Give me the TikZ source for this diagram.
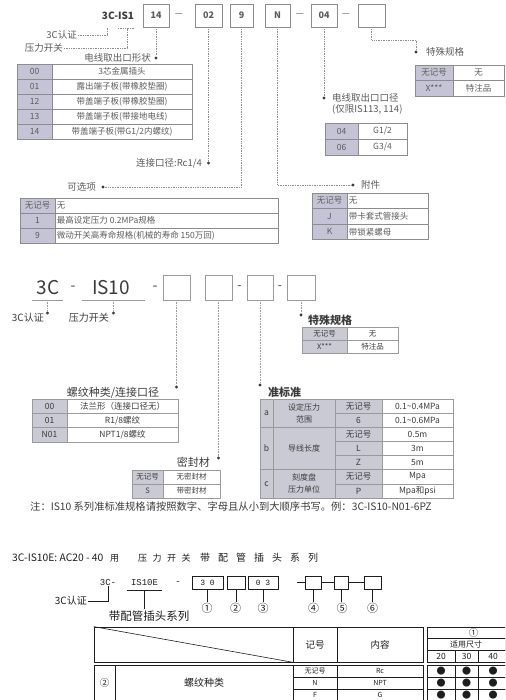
\documentclass[tikz,border=0pt]{standalone}
\usepackage{fontspec}
\setmainfont{Noto Sans CJK SC}
\setmonofont{Liberation Mono}
\usetikzlibrary{calc}
\definecolor{fillA}{HTML}{C4C4D6}
\definecolor{fillB}{HTML}{CACAD4}
\definecolor{lineA}{HTML}{8C8C8C}
\definecolor{lineB}{HTML}{9A9A9A}
\definecolor{txtA}{HTML}{5C5C5C}
\definecolor{txtB}{HTML}{3C3C3C}
\definecolor{txtC}{HTML}{1E1E1E}
\newcommand\cellx[7][]{\node[#1,minimum width={(#5)-(#3)},minimum height={(#6)-(#4)}] (#2) at ({((#3)+(#5))/2},{((#4)+(#6))/2}) {#7};}
\newcommand\gapA{\hspace{5.5pt}}
\newcommand\gapB{\hspace{8pt}}
\begin{document}
\begin{tikzpicture}[x=1pt,y=-1pt,
  cell/.style={draw=lineA,line width=0.5pt,inner sep=0pt,align=center,text=txtA,font=\fontsize{8.5}{9}\selectfont},
  cellL/.style={inner sep=0pt,anchor=west,text=txtA,font=\fontsize{8.5}{9}\selectfont},
  cellB/.style={draw=lineB,line width=0.5pt,inner sep=0pt,align=center,text=txtB,font=\fontsize{8.5}{9.5}\selectfont},
  cellC/.style={draw=txtC,line width=0.8pt,inner sep=0pt,align=center,text=txtC,font=\fontsize{9.5}{10}\selectfont},
  boxA/.style={draw=lineA,line width=0.6pt,inner sep=0pt,text=txtA,font=\bfseries\fontsize{9}{10}\selectfont},
  boxB/.style={draw=lineB,line width=0.5pt,inner sep=0pt},
  boxC/.style={draw=txtC,line width=0.9pt,inner sep=0pt,text=txtC,font=\ttfamily\fontsize{8}{9}\selectfont,minimum height=13},
  dashA/.style={inner sep=0pt,text=txtA,font=\fontsize{9}{10}\selectfont},
  labA/.style={inner sep=1pt,text=txtA,font=\fontsize{9.5}{10}\selectfont},
  labB/.style={inner sep=1pt,text=txtB,font=\fontsize{10}{11}\selectfont},
  headB/.style={inner sep=1pt,text=txtB,font=\bfseries\fontsize{11}{12}\selectfont},
  bigB/.style={inner sep=0pt,text=txtB,font=\fontsize{19}{20}\selectfont},
  monoC/.style={inner sep=0pt,text=txtC,font=\ttfamily\fontsize{9}{10}\selectfont},
  labC/.style={inner sep=1pt,text=txtC,font=\fontsize{10}{11}\selectfont},
  conn/.style={densely dotted,draw=lineA,line width=0.7pt},
  connB/.style={densely dotted,draw=lineB,line width=0.6pt},
  connC/.style={draw=txtC,line width=0.8pt},
  dotn/.style={circle,fill=txtB,inner sep=0pt,minimum size=3.4pt}]
\useasboundingbox (0,0) rectangle (505,700);
\clip (0,0) rectangle (505,700);
\fill[white] (0,0) rectangle (505,700);

% ================= Section 1 =================
\node[inner sep=0pt,text=txtB,font=\bfseries\fontsize{10}{11}\selectfont] (s1code) at (118,16) {3C-IS1};
\node[boxA,minimum width=26,minimum height=23] (b14) at (156,15.5) {14};
\node[dashA] (s1d1) at (179,15) {—};
\node[boxA,minimum width=27,minimum height=23] (b02) at (208.5,15.5) {02};
\node[boxA,minimum width=23,minimum height=23] (b9) at (241.5,15.5) {9};
\node[boxA,minimum width=25,minimum height=23] (bN) at (277.5,15.5) {N};
\node[dashA] (s1d2) at (300,15) {—};
\node[boxA,minimum width=26,minimum height=23] (b04) at (324,15.5) {04};
\node[dashA] (s1d3) at (346,15) {—};
\node[boxA,minimum width=27,minimum height=23] (bX) at (371.5,15.5) {};

% 3C / pressure switch labels
\node[labA,anchor=east] (l3c) at (78,35) {3C认证};
\coordinate (k3c) at (107,28);
\draw[conn] (l3c.east) -| (k3c);
\node[labA,anchor=east] (lpr) at (64,48) {压力开关};
\coordinate (kpr) at (127,28);
\coordinate (ulA) at (118,28);
\coordinate (ulB) at (135,28);
\draw[conn] (lpr.east) -| (kpr);
\draw[conn] (ulA) -- (ulB);

% electrical entry
\node[dotn] (p14) at (156,58) {};
\draw[conn] (b14.south) -- (p14);
\node[labA,anchor=east] (l14) at (152,58) {电线取出口形状};
\cellx[cell,fill=fillA]{ta0}{17}{64}{52}{79}{00}
\cellx[cell]{tb0}{52}{64}{192}{79}{3芯金属插头}
\cellx[cell,fill=fillA]{ta1}{17}{79}{52}{94}{01}
\cellx[cell]{tb1}{52}{79}{192}{94}{露出端子板(带橡胶垫圈)}
\cellx[cell,fill=fillA]{ta2}{17}{94}{52}{109}{12}
\cellx[cell]{tb2}{52}{94}{192}{109}{带盖端子板(带橡胶垫圈)}
\cellx[cell,fill=fillA]{ta3}{17}{109}{52}{124}{13}
\cellx[cell]{tb3}{52}{109}{192}{124}{带盖端子板(带接地电线)}
\cellx[cell,fill=fillA]{ta4}{17}{124}{52}{139}{14}
\cellx[cell]{tb4}{52}{124}{192}{139}{带盖端子板(带G1/2内螺纹)}

% port size
\node[dotn] (p02) at (208.5,163) {};
\draw[conn] (b02.south) -- (p02);
\node[labA,anchor=east] (l02) at (203,163) {连接口径:Rc1/4};

% options
\node[dotn] (p9) at (103,187) {};
\draw[conn] (b9.south) |- (p9);
\node[labA,anchor=east] (l9) at (97,187) {可选项};
\cellx[cell,fill=fillA]{oa0}{20}{198}{55}{213}{无记号}
\cellx[cell]{ob0}{55}{198}{278}{213}{}
\node[cellL] (ob0t) at ([xshift=2pt]ob0.west) {无};
\cellx[cell,fill=fillA]{oa1}{20}{213}{55}{228}{1}
\cellx[cell]{ob1}{55}{213}{278}{228}{}
\node[cellL] (ob1t) at ([xshift=2pt]ob1.west) {最高设定压力 0.2MPa规格};
\cellx[cell,fill=fillA]{oa2}{20}{228}{55}{243}{9}
\cellx[cell]{ob2}{55}{228}{278}{243}{}
\node[cellL] (ob2t) at ([xshift=2pt]ob2.west) {微动开关高寿命规格(机械的寿命 150万回)};

% accessories
\node[dotn] (pN) at (353,185) {};
\draw[conn] (bN.south) |- (pN);
\node[labA,anchor=west] (lN) at (360,185) {附件};
\cellx[cell,fill=fillA]{aa0}{312}{193}{347}{208.5}{无记号}
\cellx[cell]{ab0}{347}{193}{428}{208.5}{}
\node[cellL] (ab0t) at ([xshift=2pt]ab0.west) {无};
\cellx[cell,fill=fillA]{aa1}{312}{208.5}{347}{224}{J}
\cellx[cell]{ab1}{347}{208.5}{428}{224}{}
\node[cellL] (ab1t) at ([xshift=2pt]ab1.west) {带卡套式管接头};
\cellx[cell,fill=fillA]{aa2}{312}{224}{347}{239.5}{K}
\cellx[cell]{ab2}{347}{224}{428}{239.5}{}
\node[cellL] (ab2t) at ([xshift=2pt]ab2.west) {带锁紧螺母};

% electrical entry port size
\node[dotn] (p04) at (324,98) {};
\draw[conn] (b04.south) -- (p04);
\node[labA,anchor=west] (l04) at (331,98) {电线取出口口径};
\node[labA,anchor=west] (l04b) at (331,109) {(仅限IS113, 114)};
\cellx[cell,fill=fillA]{ga0}{325}{123}{358}{139}{04}
\cellx[cell]{gb0}{358}{123}{407}{139}{G1/2}
\cellx[cell,fill=fillA]{ga1}{325}{139}{358}{155}{06}
\cellx[cell]{gb1}{358}{139}{407}{155}{G3/4}

% special spec
\node[dotn] (pX) at (416,52) {};
\coordinate (kX) at (371.5,40);
\draw[conn] (bX.south) -- (kX) -| (pX);
\node[labA,anchor=west] (lX) at (425,52) {特殊规格};
\cellx[cell,fill=fillA]{xa0}{415}{65}{453}{80}{无记号}
\cellx[cell]{xb0}{453}{65}{504}{80}{无}
\cellx[cell,fill=fillA]{xa1}{415}{80}{453}{96}{X***}
\cellx[cell]{xb1}{453}{80}{504}{96}{特注品}

% ================= Section 2 =================
\node[bigB] (s3c) at (48,288) {3C};
\node[bigB,font=\fontsize{14}{15}\selectfont] (sd1) at (73,288) {-};
\node[bigB] (sis) at (111,288) {IS10};
\node[bigB,font=\fontsize{14}{15}\selectfont] (sd2) at (155,288) {-};
\coordinate (u1a) at (32,300); \coordinate (u1b) at (63,300);
\coordinate (u2a) at (82,300); \coordinate (u2b) at (145,300);
\draw[draw=lineB,line width=0.6pt] (u1a) -- (u1b);
\draw[draw=lineB,line width=0.6pt] (u2a) -- (u2b);
\node[boxB,minimum width=27,minimum height=25] (c1) at (176.5,287.5) {};
\node[boxB,minimum width=27,minimum height=25] (c2) at (218.5,287.5) {};
\node[bigB,font=\fontsize{12}{13}\selectfont] (sd3) at (239.5,288) {-};
\node[boxB,minimum width=26,minimum height=25] (c3) at (260,287.5) {};
\node[bigB,font=\fontsize{12}{13}\selectfont] (sd4) at (280,288) {-};
\node[boxB,minimum width=28,minimum height=25] (c4) at (301,287.5) {};

\node[dotn] (q3c) at (47.5,313) {};
\draw[connB] ($(u1a)!0.5!(u1b)$) -- (q3c);
\node[labB,anchor=east] (m3c) at (45,318) {3C认证};
\node[dotn] (qpr) at (113.5,313) {};
\draw[connB] ($(u2a)!0.5!(u2b)$) -- (qpr);
\node[labB,anchor=east] (mpr) at (110,318) {压力开关};

% special spec 2
\node[dotn] (q4) at (301,315) {};
\draw[connB] (c4.south) -- (q4);
\node[headB,anchor=west] (m4) at (307,320) {特殊规格};
\cellx[cellB,fill=fillB,font=\fontsize{7.5}{8}\selectfont]{ya0}{302}{327}{347}{340}{无记号}
\cellx[cellB,font=\fontsize{7.5}{8}\selectfont]{yb0}{347}{327}{398}{340}{无}
\cellx[cellB,fill=fillB,font=\fontsize{7.5}{8}\selectfont]{ya1}{302}{340}{347}{353}{X***}
\cellx[cellB,font=\fontsize{7.5}{8}\selectfont]{yb1}{347}{340}{398}{353}{特注品}

% thread type
\node[dotn] (q1) at (176.5,387) {};
\draw[connB] (c1.south) -- (q1);
\node[labB,font=\fontsize{11}{12}\selectfont] (m1) at (113,393) {螺纹种类/连接口径};
\cellx[cellB,fill=fillB]{za0}{32}{399}{67}{413.3}{00}
\cellx[cellB]{zb0}{67}{399}{178}{413.3}{法兰形（连接口径无）}
\cellx[cellB,fill=fillB]{za1}{32}{413.3}{67}{427.7}{01}
\cellx[cellB]{zb1}{67}{413.3}{178}{427.7}{R1/8螺纹}
\cellx[cellB,fill=fillB]{za2}{32}{427.7}{67}{442}{N01}
\cellx[cellB]{zb2}{67}{427.7}{178}{442}{NPT1/8螺纹}

% seal
\node[dotn] (q2) at (218.5,458) {};
\draw[connB] (c2.south) -- (q2);
\node[labB,anchor=east,font=\fontsize{11}{12}\selectfont] (m2) at (211,462) {密封材};
\cellx[cellB,fill=fillB,font=\fontsize{7.5}{8}\selectfont]{wa0}{132}{470}{163}{484}{无记号}
\cellx[cellB,font=\fontsize{7.5}{8}\selectfont]{wb0}{163}{470}{220}{484}{无密封材}
\cellx[cellB,fill=fillB,font=\fontsize{7.5}{8}\selectfont]{wa1}{132}{484}{163}{498}{S}
\cellx[cellB,font=\fontsize{7.5}{8}\selectfont]{wb1}{163}{484}{220}{498}{带密封材}

% semi-standard
\node[dotn] (q3) at (260,385) {};
\draw[connB] (c3.south) -- (q3);
\node[headB,anchor=west] (m3) at (267,392) {准标准};
\cellx[cellB,fill=fillB]{va}{260}{399}{273}{427.29}{a}
\cellx[cellB,fill=fillB]{vb}{260}{427.29}{273}{469.71}{b}
\cellx[cellB,fill=fillB]{vc}{260}{469.71}{273}{498}{c}
\cellx[cellB,fill=fillB,font=\fontsize{8}{12}\selectfont]{na}{273}{399}{335}{427.29}{设定压力\\范围}
\cellx[cellB,fill=fillB,font=\fontsize{8}{12}\selectfont]{nb}{273}{427.29}{335}{469.71}{导线长度}
\cellx[cellB,fill=fillB,font=\fontsize{8}{12}\selectfont]{nc}{273}{469.71}{335}{498}{刻度盘\\压力单位}
\cellx[cellB,fill=fillB]{k0}{335}{399}{382}{413.14}{无记号}
\cellx[cellB,fill=fillB]{k1}{335}{413.14}{382}{427.29}{6}
\cellx[cellB,fill=fillB]{k2}{335}{427.29}{382}{441.43}{无记号}
\cellx[cellB,fill=fillB]{k3}{335}{441.43}{382}{455.57}{L}
\cellx[cellB,fill=fillB]{k4}{335}{455.57}{382}{469.71}{Z}
\cellx[cellB,fill=fillB]{k5}{335}{469.71}{382}{483.86}{无记号}
\cellx[cellB,fill=fillB]{k6}{335}{483.86}{382}{498}{P}
\cellx[cellB]{v0}{382}{399}{453}{413.14}{0.1\textasciitilde 0.4MPa}
\cellx[cellB]{v1}{382}{413.14}{453}{427.29}{0.1\textasciitilde 0.6MPa}
\cellx[cellB]{v2}{382}{427.29}{453}{441.43}{0.5m}
\cellx[cellB]{v3}{382}{441.43}{453}{455.57}{3m}
\cellx[cellB]{v4}{382}{455.57}{453}{469.71}{5m}
\cellx[cellB]{v5}{382}{469.71}{453}{483.86}{Mpa}
\cellx[cellB]{v6}{382}{483.86}{453}{498}{Mpa和psi}

% note
\node[anchor=west,inner sep=0pt,text=txtB,font=\fontsize{10.3}{11}\selectfont] (note) at (30,507) {注：IS10 系列准标准规格请按照数字、字母且从小到大顺序书写。例：3C-IS10-N01-6PZ};

% ================= Section 3 =================
\node[anchor=west,inner sep=0pt,text=txtC,font=\fontsize{10.3}{11}\selectfont] (ti1) at (12,558) {3C-IS10E: AC20 - 40};
\node[anchor=west,inner sep=0pt,text=txtC,font=\fontsize{9}{10}\selectfont] (ti2) at (110,558) {用};
\node[anchor=west,inner sep=0pt,text=txtC,font=\fontsize{9}{10}\selectfont] (ti3) at (138,558) {压\gapA 力\gapA 开\gapA 关};
\node[anchor=west,inner sep=0pt,text=txtC,font=\fontsize{10}{11}\selectfont] (ti4) at (200,558) {带\gapB 配\gapB 管\gapB 插\gapB 头\gapB 系\gapB 列};

\node[monoC] (e3c) at (108,583) {3C-};
\node[monoC] (eis) at (144.5,583) {IS10E};
\coordinate (eu1) at (127,590); \coordinate (eu2) at (162,590);
\coordinate (eum) at ($(eu1)!0.5!(eu2)$);
\draw[connC] (eu1) -- (eu2);
\node[monoC] (edash) at (178,583) {-};
\node[boxC,minimum width=31] (e1) at (207.5,582.5) {3 0};
\node[boxC,minimum width=18] (e2) at (236,582.5) {};
\node[boxC,minimum width=30] (e3) at (263,582.5) {0 3};
\coordinate (e4l) at (297,582.5);
\node[boxC,minimum width=16] (e4) at (313.5,582.5) {};
\node[boxC,minimum width=14] (e5) at (341,582.5) {};
\node[boxC,minimum width=17] (e6) at (372.5,582.5) {};
\draw[connC] (e4l) -- (e4.west);
\draw[connC] (e4.east) -- (e5.west);
\draw[connC] (e5.east) -- (e6.west);
\foreach \n/\x/\s in {n1/207/①,n2/235.5/②,n3/263/③,n4/313.5/④,n5/342/⑤,n6/372.5/⑥}{
  \node[inner sep=0.5pt,text=txtC,font=\fontsize{11}{12}\selectfont] (\n) at (\x,608) {\s};
}
\draw[connC] (e1.south) -- (e1.south |- n1.north);
\draw[connC] (e2.south) -- (e2.south |- n2.north);
\draw[connC] (e3.south) -- (e3.south |- n3.north);
\draw[connC] (e4.south) -- (e4.south |- n4.north);
\draw[connC] (e5.south) -- (e5.south |- n5.north);
\draw[connC] (e6.south) -- (e6.south |- n6.north);

\node[labC,anchor=east] (f3c) at (88,601) {3C认证};
\draw[connC] (f3c.east) -| (e3c.south);
\node[labC,font=\fontsize{11.5}{12}\selectfont] (f2) at (149,616) {带配管插头系列};
\draw[connC] (eum) -- (eum |- f2.north);

% header table
\cellx[cellC]{h0}{94}{627}{293}{662}{}
\draw[draw=txtC,line width=0.6pt] (h0.north west) -- (h0.south east);
\cellx[cellC]{h1}{293}{627}{337}{662}{记号}
\cellx[cellC]{h2}{337}{627}{423}{662}{内容}
\cellx[cellC]{r0}{427}{627}{520}{638.5}{①}
\cellx[cellC,font=\fontsize{8}{9}\selectfont]{r1}{427}{638.5}{505}{650}{适用尺寸}
\cellx[cellC,font=\fontsize{8.5}{9}\selectfont]{r20}{427}{650}{455}{662}{20}
\cellx[cellC,font=\fontsize{8.5}{9}\selectfont]{r30}{455}{650}{478}{662}{30}
\cellx[cellC,font=\fontsize{8.5}{9}\selectfont]{r40}{478}{650}{508}{662}{40}

% body table
\cellx[cellC]{g0}{94}{665}{115}{701}{②}
\cellx[cellC,font=\fontsize{10}{11}\selectfont]{g1}{115}{665}{293}{701}{螺纹种类}
\cellx[cellC,font=\fontsize{7}{8}\selectfont]{g20}{293}{665}{337}{677}{无记号}
\cellx[cellC,font=\fontsize{7}{8}\selectfont]{g21}{293}{677}{337}{689}{N}
\cellx[cellC,font=\fontsize{7}{8}\selectfont]{g22}{293}{689}{337}{701}{F}
\cellx[cellC,font=\fontsize{7}{8}\selectfont]{g30}{337}{665}{423}{677}{Rc}
\cellx[cellC,font=\fontsize{7}{8}\selectfont]{g31}{337}{677}{423}{689}{NPT}
\cellx[cellC,font=\fontsize{7}{8}\selectfont]{g32}{337}{689}{423}{701}{G}
\foreach \r/\ya/\yb in {0/665/677,1/677/689,2/689/701}{
  \cellx[cellC,font=\fontsize{9}{9}\selectfont]{d\r a}{427}{\ya}{455}{\yb}{●}
  \cellx[cellC,font=\fontsize{9}{9}\selectfont]{d\r b}{455}{\ya}{478}{\yb}{●}
  \cellx[cellC,font=\fontsize{9}{9}\selectfont]{d\r c}{478}{\ya}{508}{\yb}{●}
}
\end{tikzpicture}
\end{document}
